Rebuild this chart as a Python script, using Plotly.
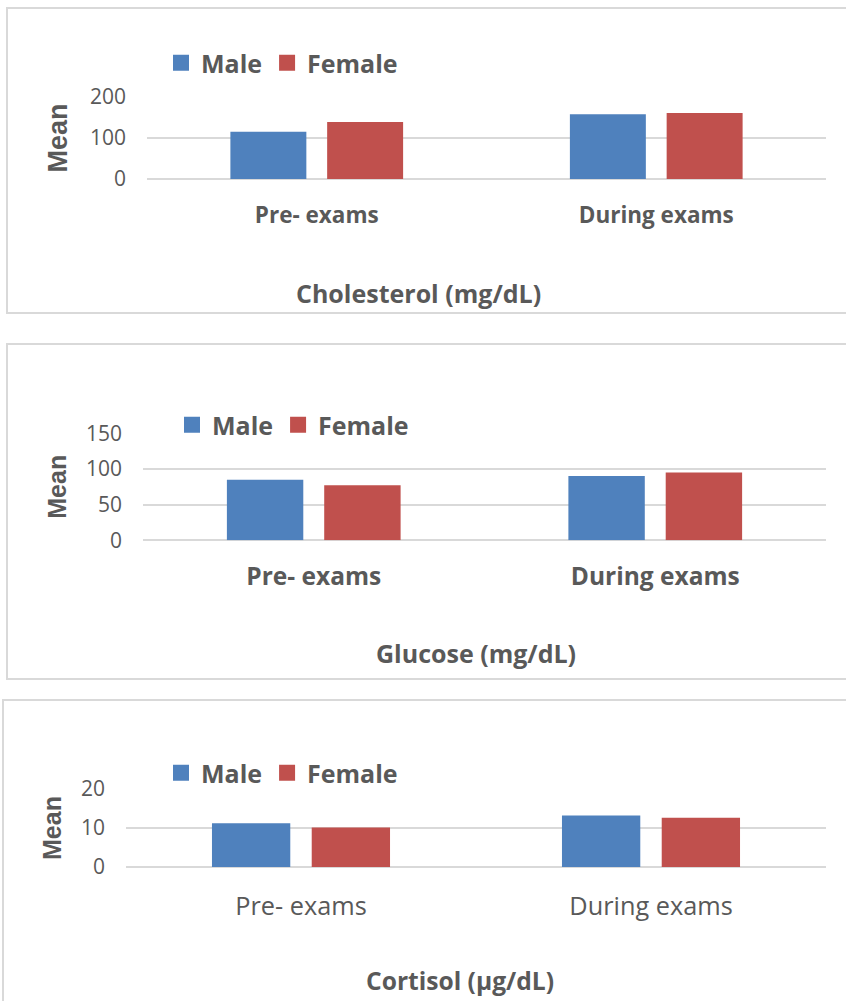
import plotly.graph_objects as go

W, H = 846, 1001

categories = ["Pre- exams", "During exams"]
series_names = ["Male", "Female"]
series_colors = ["#4F81BD", "#C0504D"]

cholesterol_male = [115, 158]
cholesterol_female = [139, 161]

glucose_male = [85, 90]
glucose_female = [77, 95]

cortisol_male = [11.2, 13.2]
cortisol_female = [10.1, 12.6]

panel_titles = ["Cholesterol (mg/dL)", "Glucose (mg/dL)", "Cortisol (µg/dL)"]
y_ranges = [[0, 200], [0, 150], [0, 20]]
y_dticks = [100, 50, 10]

TXT = "#595959"
GRID = "#D9D9D9"
FONT = "Open Sans"


def px_x(v):
    return v / W


def px_y(v):
    return 1 - v / H


fig = go.Figure()

panels = [
    dict(male=cholesterol_male, female=cholesterol_female, ax="", plot_x=(147, 826), plot_y=(97, 179),
         legend="legend", leg_x=161, leg_y=63, box=(7, 8, 313), title_xy=(418, 293), title_size=25,
         tick_size=22.5, tick_bold=True, mean_size=27, standoff=20, mean_standoff=14),
    dict(male=glucose_male, female=glucose_female, ax="2", plot_x=(143, 826), plot_y=(433.3, 540.3),
         legend="legend2", leg_x=172, leg_y=425, box=(7, 344, 679), title_xy=(476, 653), title_size=25,
         tick_size=24.5, tick_bold=True, mean_size=25, standoff=19, mean_standoff=12),
    dict(male=cortisol_male, female=cortisol_female, ax="3", plot_x=(126, 826), plot_y=(789, 867),
         legend="legend3", leg_x=161, leg_y=773, box=(3, 700, 1010), title_xy=(460, 980), title_size=24.6,
         tick_size=25.3, tick_bold=False, mean_size=25, standoff=22, mean_standoff=12),
]

layout = dict(
    width=W, height=H,
    margin=dict(l=0, r=0, t=0, b=0, autoexpand=False),
    paper_bgcolor="white", plot_bgcolor="white",
    barmode="group", bargap=0.43, bargroupgap=0.215,
    font=dict(family=FONT, color=TXT),
    shapes=[], annotations=[],
)

for i, p in enumerate(panels):
    ax = p["ax"]
    xname, yname = "x" + ax, "y" + ax
    vals = [p["male"], p["female"]]
    for name, color, v in zip(series_names, series_colors, vals):
        fig.add_trace(go.Bar(
            x=categories, y=v, name=name, marker=dict(color=color, line=dict(width=0)),
            xaxis=xname, yaxis=yname, showlegend=False, legendgroup=f"{name}{i}",
            hovertemplate="%{x}: %{y}<extra>" + name + "</extra>",
        ))
        fig.add_trace(go.Scatter(
            x=[None], y=[None], mode="markers", name=name,
            marker=dict(symbol="square", size=16, color=color, line=dict(width=0)),
            xaxis=xname, yaxis=yname, legend=p["legend"], legendgroup=f"{name}{i}",
            showlegend=True, hoverinfo="skip",
        ))

    layout["xaxis" + ax] = dict(
        domain=[px_x(p["plot_x"][0]), px_x(p["plot_x"][1])],
        anchor=yname, type="category", showgrid=False, showline=False, ticks="",
        zeroline=False, ticklabelstandoff=p["standoff"],
        tickfont=dict(family=FONT, size=p["tick_size"], color=TXT,
                      weight="bold" if p["tick_bold"] else "normal"),
        fixedrange=True,
    )
    layout["yaxis" + ax] = dict(
        domain=[px_y(p["plot_y"][1]), px_y(p["plot_y"][0])],
        anchor=xname, range=y_ranges[i], dtick=y_dticks[i], tick0=0,
        showgrid=True, gridcolor=GRID, gridwidth=2, zeroline=True, zerolinecolor=GRID,
        zerolinewidth=2, showline=False, ticks="", ticklabelstandoff=20,
        tickfont=dict(family=FONT, size=21, color=TXT),
        title=dict(text="Mean", standoff=p["mean_standoff"],
                   font=dict(family="Liberation Sans, Arial", size=p["mean_size"], color=TXT,
                             weight="bold")),
        fixedrange=True,
    )
    layout[p["legend"]] = dict(
        orientation="h", x=px_x(p["leg_x"]), y=px_y(p["leg_y"]), xanchor="left", yanchor="middle",
        bgcolor="rgba(0,0,0,0)", borderwidth=0, itemwidth=30,
        font=dict(family=FONT, size=25, color=TXT, weight="bold"),
        tracegroupgap=0,
    )
    bx0, by0, by1 = p["box"]
    layout["shapes"].append(dict(
        type="rect", xref="paper", yref="paper", x0=px_x(bx0), x1=1.05, y0=px_y(by1), y1=px_y(by0),
        line=dict(color=GRID, width=2), fillcolor="rgba(0,0,0,0)", layer="below",
    ))
    tx, ty = p["title_xy"]
    layout["annotations"].append(dict(
        text=panel_titles[i], xref="paper", yref="paper", x=px_x(tx), y=px_y(ty),
        xanchor="center", yanchor="middle", showarrow=False,
        font=dict(family=FONT, size=p["title_size"], color=TXT, weight="bold"),
    ))

fig.update_layout(**layout)
fig.write_html("out.html", config={"displayModeBar": False},
               post_script="document.body.style.margin='0';")
